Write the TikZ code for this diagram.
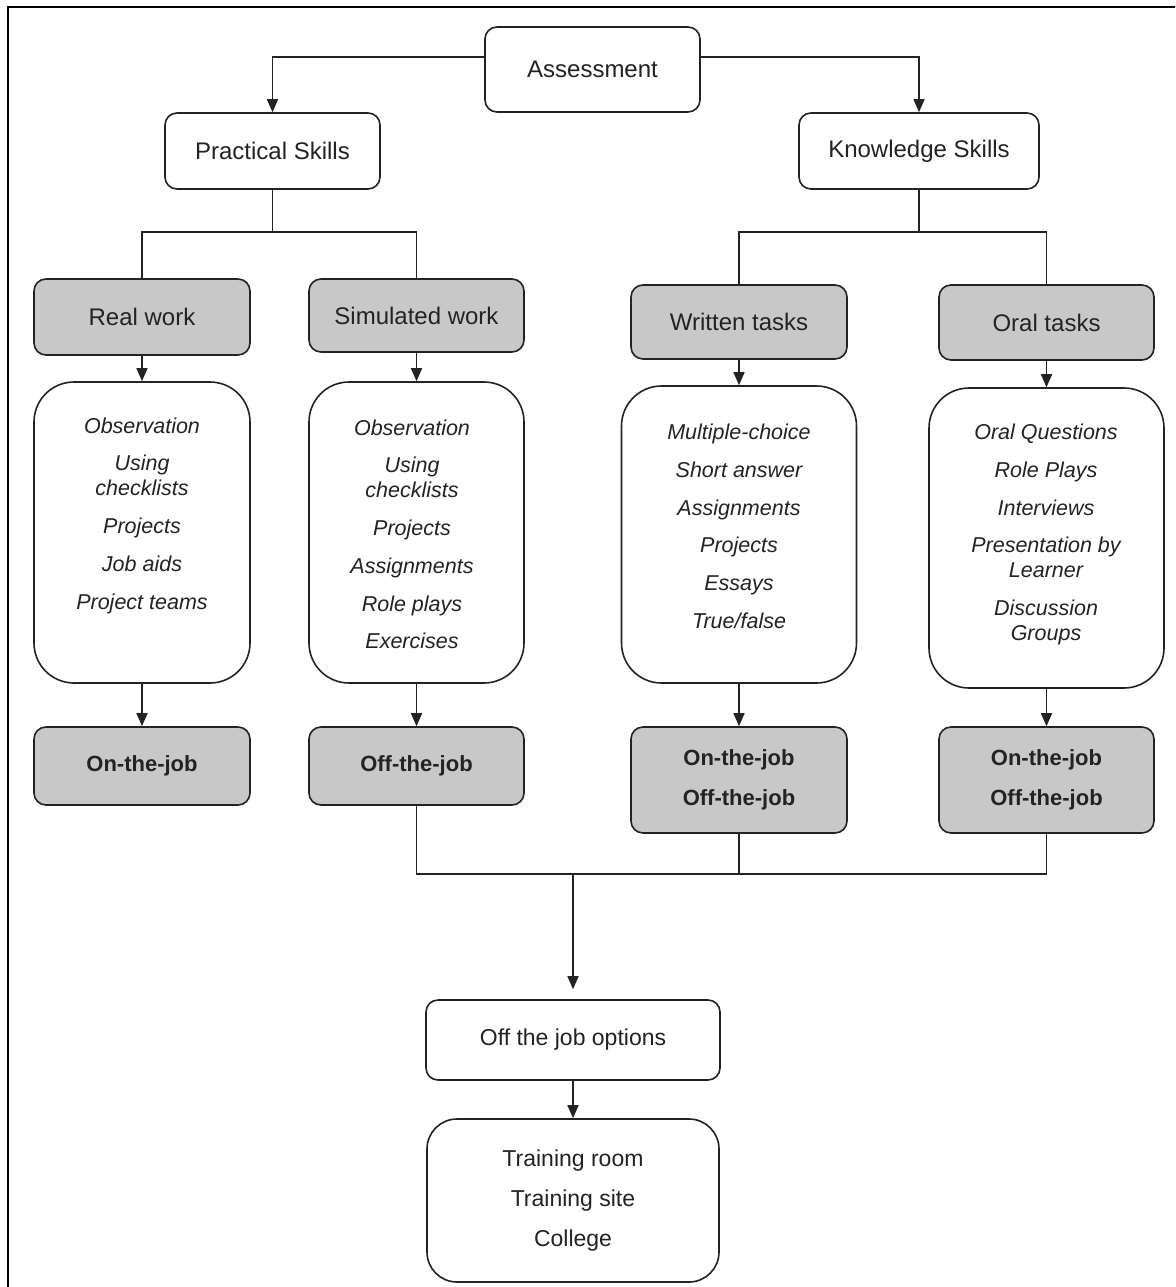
\documentclass[tikz,border=0pt]{standalone}
\usepackage{fontspec}
\setmainfont{Liberation Sans}
\usetikzlibrary{arrows.meta}
\definecolor{boxgray}{RGB}{200,200,200}
\definecolor{ink}{RGB}{35,35,35}
\tikzset{
  box/.style={draw=ink, line width=1.6pt, rounded corners=12pt, inner sep=0pt, fill=white,
    text=ink, font=\fontsize{24}{28}\selectfont},
  graybox/.style={box, fill=boxgray},
  listbox/.style={draw=ink, line width=1.6pt, rounded corners=40pt, inner sep=0pt, fill=white},
  listtext/.style={align=center, text=ink, inner sep=0pt, font=\fontsize{21.5}{25}\itshape},
  boldtext/.style={font=\fontsize{22}{40}\selectfont\bfseries},
  conn/.style={draw=ink, line width=1.6pt},
  arr/.style={conn, -{Triangle[length=13pt,width=11pt]}},
}
\begin{document}
\begin{tikzpicture}[x=1pt,y=-1pt]
\useasboundingbox (0,0) rectangle (1175,1287);
\clip (0,0) rectangle (1175,1287);
\fill[white] (0,0) rectangle (1175,1287);
\draw[line width=2pt, black] (8,7) rectangle (1190,1300);

% top level
\node[box, minimum width=215pt, minimum height=85pt] (assess) at (592.5,69.5) {Assessment};
\node[box, minimum width=215pt, minimum height=76pt] (prac) at (272.5,151) {Practical Skills};
\node[box, minimum width=240pt, minimum height=76pt] (know) at (919,151) {Knowledge Skills};

% gray headers
\node[graybox, minimum width=216pt, minimum height=76pt] (real) at (142,317) {Real work};
\node[graybox, minimum width=215pt, minimum height=73pt] (sim) at (416.5,315.5) {Simulated work};
\node[graybox, minimum width=216pt, minimum height=74pt] (writ) at (739,322) {Written tasks};
\node[graybox, minimum width=215pt, minimum height=75pt] (oral) at (1046.5,322.5) {Oral tasks};

% list boxes
\node[listbox, minimum width=216pt, minimum height=301pt] (list1) at (142,532.5) {};
\node[listbox, minimum width=215pt, minimum height=301pt] (list2) at (416.5,532.5) {};
\node[listbox, minimum width=235pt, minimum height=297pt] (list3) at (739,534.5) {};
\node[listbox, minimum width=235pt, minimum height=300pt] (list4) at (1046.5,538) {};

\node[listtext] (t1) at (142,516) {Observation\\[12pt]Using\\checklists\\[13pt]Projects\\[13pt]Job aids\\[13pt]Project teams};
\node[listtext] (t2) at (412,534) {Observation\\[12pt]Using\\checklists\\[13pt]Projects\\[13pt]Assignments\\[13pt]Role plays\\[12pt]Exercises};
\node[listtext] (t3) at (739,526) {Multiple-choice\\[13pt]Short answer\\[13pt]Assignments\\[12pt]Projects\\[13pt]Essays\\[13pt]True/false};
\node[listtext] (t4) at (1046,534) {Oral Questions\\[13pt]Role Plays\\[13pt]Interviews\\[12pt]Presentation by\\Learner\\[13pt]Discussion\\Groups};

% bottom gray boxes
\node[graybox, boldtext, minimum width=216pt, minimum height=78pt] (on1) at (142,766) {On-the-job};
\node[graybox, boldtext, minimum width=215pt, minimum height=78pt] (off2) at (416.5,766) {Off-the-job};
\node[graybox, boldtext, align=center, minimum width=216pt, minimum height=106pt] (oo3) at (739,780) {On-the-job\\Off-the-job};
\node[graybox, boldtext, align=center, minimum width=215pt, minimum height=106pt] (oo4) at (1046.5,780) {On-the-job\\Off-the-job};

% options
\node[box, font=\fontsize{23}{40}\selectfont, minimum width=294pt, minimum height=80pt] (opts) at (573,1040) {Off the job options};
\node[box, rounded corners=30pt, font=\fontsize{23}{40}\selectfont, align=center, minimum width=292pt, minimum height=163pt] (train) at (573,1200.5) {Training room\\Training site\\College};

% connectors
\draw[arr] (assess.west |- 0,57) -| (prac.north);
\draw[arr] (assess.east |- 0,57) -| (know.north);

\coordinate (pj) at (272.5,232);
\coordinate (kj) at (919,232);
\draw[conn] (prac.south) -- (pj);
\draw[conn] (real.north) -- (real.north |- pj) -- (sim.north |- pj) -- (sim.north);
\draw[conn] (know.south) -- (kj);
\draw[conn] (writ.north) -- (writ.north |- kj) -- (oral.north |- kj) -- (oral.north);

\draw[arr] (real.south) -- (list1.north);
\draw[arr] (sim.south) -- (list2.north);
\draw[arr] (writ.south) -- (list3.north);
\draw[arr] (oral.south) -- (list4.north);

\draw[arr] (list1.south) -- (on1.north);
\draw[arr] (list2.south) -- (off2.north);
\draw[arr] (list3.south) -- (oo3.north);
\draw[arr] (list4.south) -- (oo4.north);

\coordinate (mj) at (573,874);
\draw[conn] (off2.south) -- (off2.south |- mj) -- (oo4.south |- mj) -- (oo4.south);
\draw[conn] (oo3.south) -- (oo3.south |- mj);
\draw[arr, shorten >=10pt] (mj) -- (opts.north);
\draw[arr] (opts.south) -- (train.north);
\end{tikzpicture}
\end{document}
